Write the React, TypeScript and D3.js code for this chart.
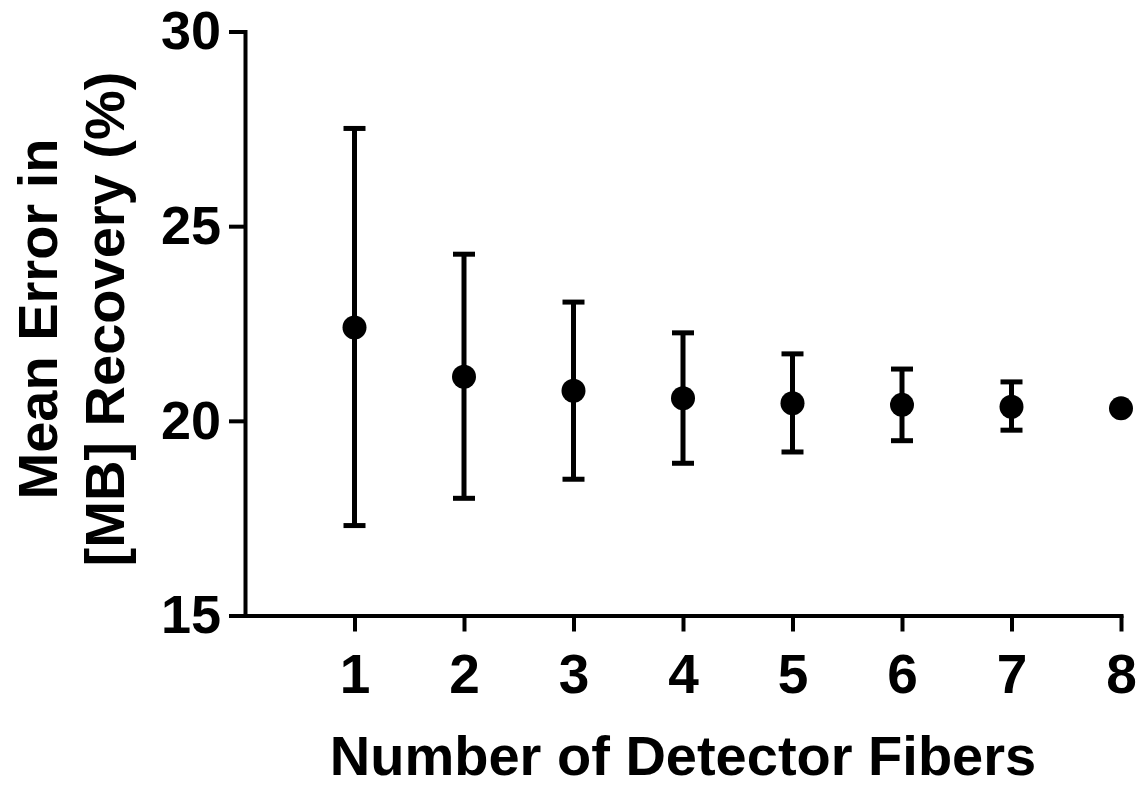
import React, { useEffect, useRef } from 'react';
import * as d3 from 'd3';

const fibers = [1, 2, 3, 4, 5, 6, 7, 8];
const meanError = [22.40, 21.13, 20.77, 20.58, 20.45, 20.41, 20.36, 20.32];
const upperError = [27.51, 24.28, 23.05, 22.26, 21.72, 21.33, 21.00, 20.32];
const lowerError = [17.31, 18.01, 18.50, 18.91, 19.20, 19.49, 19.76, 20.32];
const yTicks = [15, 20, 25, 30];

const W = 1147;
const H = 787;
const FONT = '"Liberation Sans", Arial, Helvetica, sans-serif';

const App: React.FC = () => {
    const ref = useRef<SVGSVGElement>(null);

    useEffect(() => {
        const svg = d3.select(ref.current);
        svg.selectAll("*").remove();

        const x = d3.scaleLinear().domain([0, 8]).range([245, 1121]);
        const y = d3.scaleLinear().domain([15, 30]).range([615.5, 31.5]);

        // y axis
        const gy = svg.append("g")
            .attr("transform", `translate(${x(0)},0)`)
            .call(d3.axisLeft(y).tickValues(yTicks).tickSize(16).tickSizeOuter(0).tickPadding(8).tickFormat(d3.format("d")));
        gy.select(".domain").attr("stroke-width", 4).attr("stroke-linecap", "square");
        gy.selectAll(".tick line").attr("stroke-width", 4);
        gy.selectAll(".tick text")
            .attr("font-family", FONT)
            .attr("font-weight", "bold")
            .attr("font-size", 54)
            .attr("fill", "black");

        // x axis
        const gx = svg.append("g")
            .attr("transform", `translate(0,${y(15)})`)
            .call(d3.axisBottom(x).tickValues(fibers).tickSize(16).tickSizeOuter(0).tickPadding(22).tickFormat(d3.format("d")));
        gx.select(".domain").attr("stroke-width", 4).attr("stroke-linecap", "square");
        gx.selectAll(".tick line").attr("stroke-width", 4);
        gx.selectAll(".tick text")
            .attr("font-family", FONT)
            .attr("font-weight", "bold")
            .attr("font-size", 55)
            .attr("fill", "black");

        const data = fibers.map((f, i) => ({ f, m: meanError[i], hi: upperError[i], lo: lowerError[i] }));
        const capW = 11;

        // error bars (SD)
        const bars = svg.append("g").attr("stroke", "black").attr("stroke-width", 5);
        data.filter(d => d.hi > d.lo).forEach(d => {
            bars.append("line")
                .attr("x1", x(d.f)).attr("x2", x(d.f))
                .attr("y1", y(d.hi)).attr("y2", y(d.lo));
            bars.append("line")
                .attr("x1", x(d.f) - capW).attr("x2", x(d.f) + capW)
                .attr("y1", y(d.hi)).attr("y2", y(d.hi));
            bars.append("line")
                .attr("x1", x(d.f) - capW).attr("x2", x(d.f) + capW)
                .attr("y1", y(d.lo)).attr("y2", y(d.lo));
        });

        svg.append("g")
            .selectAll("circle")
            .data(data).enter()
            .append("circle")
            .attr("cx", d => x(d.f))
            .attr("cy", d => y(d.m))
            .attr("r", 12)
            .attr("fill", "black");

        // titles
        svg.append("text")
            .attr("x", (x(0) + x(8)) / 2)
            .attr("y", 775)
            .attr("text-anchor", "middle")
            .attr("font-family", FONT)
            .attr("font-weight", "bold")
            .attr("font-size", 56)
            .text("Number of Detector Fibers");

        const yt = svg.append("g").attr("transform", "translate(0,319) rotate(-90)");
        yt.append("text")
            .attr("x", 0).attr("y", 57)
            .attr("text-anchor", "middle")
            .attr("font-family", FONT)
            .attr("font-weight", "bold")
            .attr("font-size", 56)
            .text("Mean Error in");
        yt.append("text")
            .attr("x", 0).attr("y", 124)
            .attr("text-anchor", "middle")
            .attr("font-family", FONT)
            .attr("font-weight", "bold")
            .attr("font-size", 56)
            .text("[MB] Recovery (%)");
    }, []);

    return (
        <svg ref={ref} width={W} height={H}
            style={{ position: "absolute", left: 0, top: 0, background: "white" }} />
    );
};

export default App;
